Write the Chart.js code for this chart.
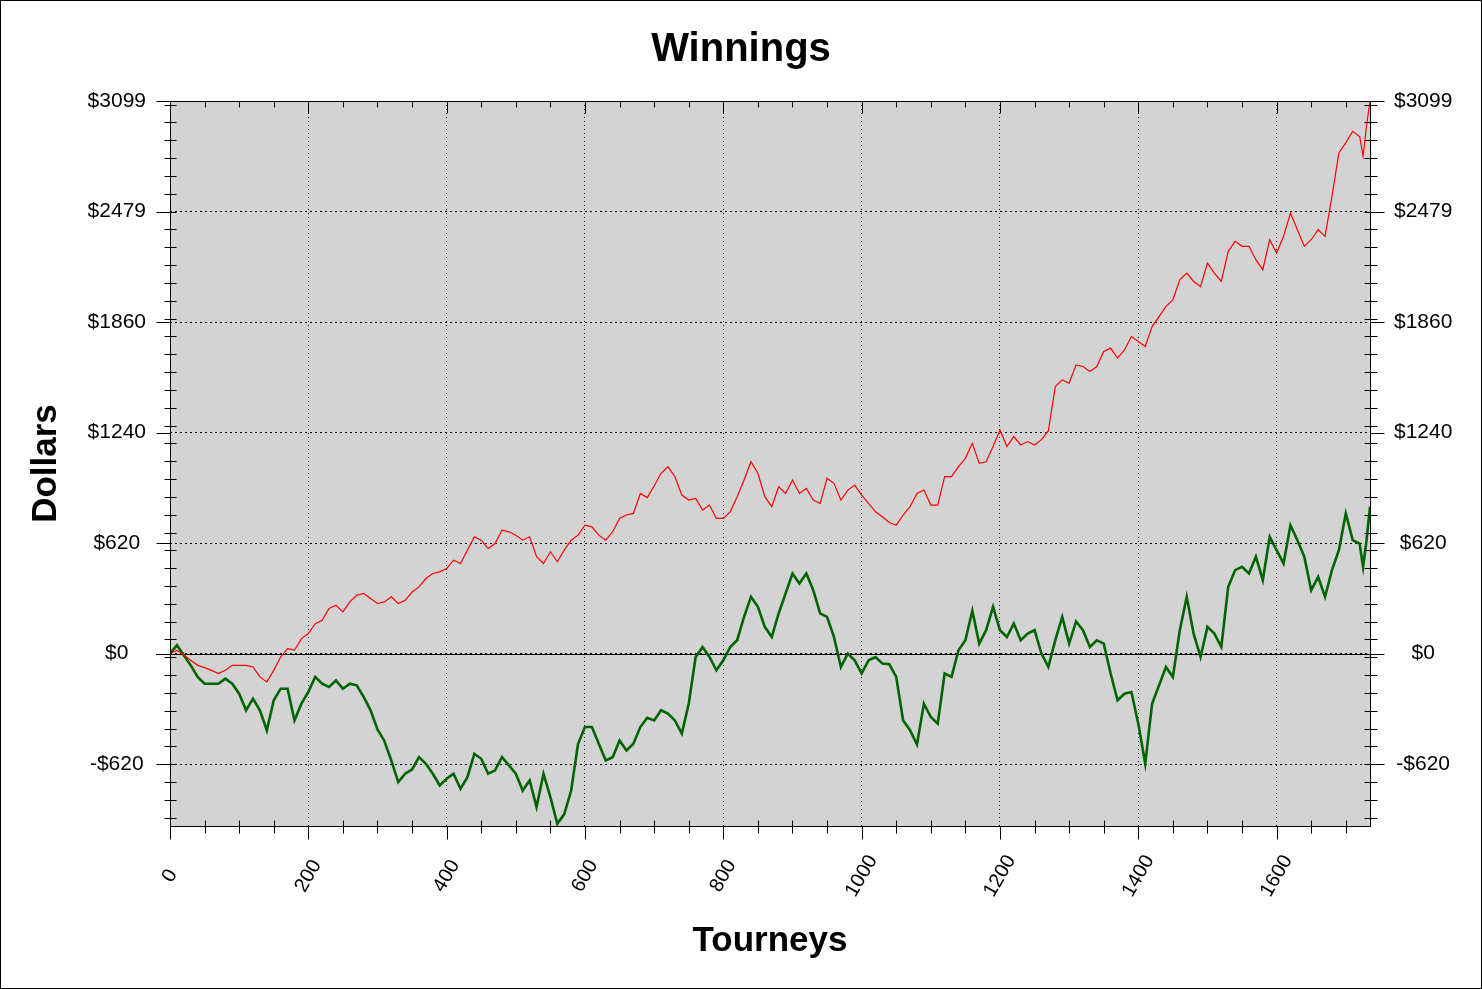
<!DOCTYPE html>
<html>
<head>
<meta charset="utf-8">
<title>Winnings</title>
<script src="https://cdn.jsdelivr.net/npm/chart.js@4.4.1/dist/chart.umd.min.js"></script>
<style>
  html, body { margin: 0; padding: 0; background: #fff; overflow: hidden; }
  canvas { display: block; }
</style>
</head>
<body>
<canvas id="winningsChart" width="1482" height="989"></canvas>
<script>
// tourney number for every sampled point
const tourneys = [
  0, 10, 20, 30, 40, 50, 60, 70, 80, 90,
  100, 110, 120, 130, 140, 150, 160, 170, 180, 190,
  200, 210, 220, 230, 240, 250, 260, 270, 280, 290,
  300, 310, 320, 330, 340, 350, 360, 370, 380, 390,
  400, 410, 420, 430, 440, 450, 460, 470, 480, 490,
  500, 510, 520, 530, 540, 550, 560, 570, 580, 590,
  600, 610, 620, 630, 640, 650, 660, 670, 680, 690,
  700, 710, 720, 730, 740, 750, 760, 770, 780, 790,
  800, 810, 820, 830, 840, 850, 860, 870, 880, 890,
  900, 910, 920, 930, 940, 950, 960, 970, 980, 990,
  1000, 1010, 1020, 1030, 1040, 1050, 1060, 1070, 1080, 1090,
  1100, 1110, 1120, 1130, 1140, 1150, 1160, 1170, 1180, 1190,
  1200, 1210, 1220, 1230, 1240, 1250, 1260, 1270, 1280, 1290,
  1300, 1310, 1320, 1330, 1340, 1350, 1360, 1370, 1380, 1390,
  1400, 1410, 1420, 1430, 1440, 1450, 1460, 1470, 1480, 1490,
  1500, 1510, 1520, 1530, 1540, 1550, 1560, 1570, 1580, 1590,
  1600, 1610, 1620, 1630, 1640, 1650, 1660, 1670, 1680, 1690,
  1700, 1710, 1720, 1725, 1730, 1735
];

// red line (dollars)
const redWinnings = [
  0, 18, -10, -37, -66, -79, -94, -112, -94, -66,
  -66, -66, -75, -131, -159, -94, -19, 28, 19, 84,
  112, 168, 187, 253, 271, 234, 290, 327, 337, 309,
  281, 290, 318, 281, 299, 345, 374, 421, 449, 458,
  477, 524, 505, 580, 655, 636, 589, 617, 692, 683,
  664, 636, 655, 543, 505, 571, 515, 580, 636, 664,
  720, 711, 664, 636, 683, 758, 777, 786, 898, 875,
  940, 1011, 1048, 992, 889, 861, 870, 805, 833, 758,
  758, 795, 880, 973, 1076, 1011, 880, 824, 936, 898,
  973, 898, 926, 861, 842, 983, 955, 861, 917, 945,
  889, 842, 795, 767, 735, 720, 777, 824, 898, 917,
  833, 833, 992, 992, 1048, 1095, 1179, 1067, 1076, 1161,
  1254, 1161, 1217, 1170, 1189, 1170, 1200, 1250, 1497, 1535,
  1516, 1619, 1610, 1582, 1610, 1694, 1713, 1657, 1703, 1778,
  1750, 1722, 1834, 1890, 1947, 1984, 2096, 2134, 2087, 2059,
  2190, 2134, 2087, 2256, 2312, 2284, 2284, 2209, 2153, 2321,
  2246, 2340, 2471, 2377, 2284, 2321, 2377, 2340, 2564, 2808,
  2864, 2929, 2900, 2790, 2960, 3099
];

// green line (dollars)
const greenWinnings = [
  0, 47, -9, -66, -131, -169, -169, -169, -141, -169,
  -225, -318, -253, -318, -431, -262, -197, -197, -375, -281,
  -215, -131, -169, -187, -150, -197, -169, -178, -243, -318,
  -426, -490, -600, -721, -674, -650, -581, -618, -674, -740,
  -702, -674, -758, -693, -562, -590, -674, -655, -581, -627,
  -674, -768, -711, -861, -674, -805, -955, -900, -768, -506,
  -412, -412, -506, -599, -581, -487, -543, -506, -412, -360,
  -375, -318, -337, -375, -449, -281, -19, 37, -19, -94,
  -38, 37, 75, 206, 318, 262, 150, 93, 225, 337,
  449, 393, 449, 356, 225, 206, 93, -75, 0, -38,
  -112, -38, -19, -56, -60, -131, -375, -430, -510, -281,
  -356, -393, -112, -131, 19, 75, 240, 56, 131, 262,
  131, 93, 168, 75, 112, 131, 0, -75, 75, 206,
  56, 180, 131, 37, 75, 56, -112, -262, -225, -216,
  -393, -617, -281, -178, -75, -131, 131, 318, 112, -19,
  150, 112, 37, 374, 468, 486, 449, 543, 412, 655,
  580, 505, 720, 636, 543, 355, 430, 318, 468, 580,
  786, 636, 617, 486, 636, 823
];

const xTicks = [0, 200, 400, 600, 800, 1000, 1200, 1400, 1600];
const yTicks = [-619.8, 0, 619.8, 1239.6, 1859.4, 2479.2, 3099];
const yLabels = ['-$620', '$0', '$620', '$1240', '$1860', '$2479', '$3099'];

const FONT = "'Liberation Sans', Arial, sans-serif";
Chart.defaults.font.family = FONT;
Chart.defaults.color = '#000';

function line(c, x1, y1, x2, y2) {
  c.beginPath();
  c.moveTo(x1, y1);
  c.lineTo(x2, y2);
  c.stroke();
}

// background, plot frame, tick marks and x labels
const framePlugin = {
  id: 'frame',
  beforeDraw(chart) {
    const c = chart.ctx, a = chart.chartArea;
    c.save();
    c.fillStyle = '#fff';
    c.fillRect(0, 0, chart.width, chart.height);
    c.strokeStyle = '#000';
    c.lineWidth = 1;
    c.strokeRect(0.5, 0.5, chart.width - 1, chart.height - 1);
    c.fillStyle = '#d3d3d3';
    c.fillRect(a.left, a.top, a.right - a.left, a.bottom - a.top);
    c.restore();
  },
  beforeDatasetsDraw(chart) {
    const c = chart.ctx, a = chart.chartArea;
    const y = Math.round(chart.scales.y.getPixelForValue(0)) + 0.5;
    c.save();
    c.strokeStyle = '#000';
    c.lineWidth = 1;
    line(c, a.left - 14, y, a.right + 14, y);
    c.restore();
  },
  afterDatasetsDraw(chart) {
    const c = chart.ctx, a = chart.chartArea;
    const xs = chart.scales.x, ys = chart.scales.y;
    const L = Math.round(a.left) + 0.5, R = Math.round(a.right) + 0.5;
    const T = Math.round(a.top) + 0.5, B = Math.round(a.bottom) + 0.5;
    c.save();
    c.strokeStyle = '#000';
    c.lineWidth = 1;
    c.strokeRect(L, T, R - L, B - T);

    // y ticks, left and right
    yTicks.forEach(v => {
      const y = Math.round(ys.getPixelForValue(v)) + 0.5;
      line(c, L - 14, y, L, y);
      line(c, R, y, R + 14, y);
    });
    for (let v = -921; v <= 3099; v += 100) {
      const y = Math.round(ys.getPixelForValue(v)) + 0.5;
      line(c, L - 6, y, L + 6, y);
      line(c, R - 6, y, R + 7, y);
    }

    // x ticks, bottom and top
    xTicks.forEach(v => {
      const x = Math.round(xs.getPixelForValue(v)) + 0.5;
      line(c, x, B, x, B + 13);
      line(c, x, T, x, T + 12);
    });
    for (let v = 50; v <= 1700; v += 50) {
      if (v % 200 === 0) continue;
      const x = Math.round(xs.getPixelForValue(v)) + 0.5;
      line(c, x, B - 6, x, B + 7);
      line(c, x, T, x, T + 6);
    }

    // rotated x labels, centred under their ticks
    c.fillStyle = '#000';
    c.font = '20px ' + FONT;
    c.textAlign = 'center';
    c.textBaseline = 'middle';
    xTicks.forEach(v => {
      c.save();
      c.translate(xs.getPixelForValue(v), a.bottom + 50);
      c.rotate(-Math.PI / 3);
      c.fillText(String(v), 0, 0);
      c.restore();
    });
    c.restore();
  }
};

const yScaleBase = {
  type: 'linear',
  min: -967,
  max: 3099,
  afterBuildTicks: s => { s.ticks = yTicks.map(v => ({ value: v })); },
  ticks: {
    font: { size: 21 },
    padding: 24,
    crossAlign: 'center',
    callback: (v, i) => yLabels[i]
  }
};

new Chart(document.getElementById('winningsChart').getContext('2d'), {
  type: 'line',
  data: {
    datasets: [
      {
        label: 'Red',
        data: tourneys.map((t, i) => ({ x: t, y: redWinnings[i] })),
        borderColor: '#ff0000',
        borderWidth: 1.2,
        pointRadius: 0,
        tension: 0
      },
      {
        label: 'Green',
        data: tourneys.map((t, i) => ({ x: t, y: greenWinnings[i] })),
        borderColor: '#006400',
        borderWidth: 2.6,
        pointRadius: 0,
        tension: 0
      }
    ]
  },
  options: {
    responsive: false,
    devicePixelRatio: 1,
    animation: false,
    events: [],
    layout: { padding: 0 },
    plugins: {
      legend: { display: false },
      tooltip: { enabled: false },
      title: {
        display: true,
        text: 'Winnings',
        color: '#000',
        font: { size: 40, weight: 'bold' },
        padding: { top: 26, bottom: 27 }
      }
    },
    scales: {
      x: {
        type: 'linear',
        position: 'bottom',
        min: 0,
        max: 1735,
        afterBuildTicks: s => { s.ticks = xTicks.map(v => ({ value: v })); },
        afterFit: s => { s.height = 163; },
        ticks: { display: false },
        grid: { color: '#000', lineWidth: 1, drawTicks: false },
        border: { display: false, dash: [1, 3] },
        title: {
          display: true,
          text: 'Tourneys',
          font: { size: 35, weight: 'bold' },
          padding: { top: 0, bottom: 27 }
        }
      },
      y: {
        ...yScaleBase,
        position: 'left',
        afterFit: s => { s.width = 170; },
        grid: { color: '#000', lineWidth: 1, drawTicks: false },
        border: { display: false, dash: [2, 3] },
        title: {
          display: true,
          text: 'Dollars',
          font: { size: 35, weight: 'bold' },
          padding: { top: 25, bottom: 0 }
        }
      },
      y2: {
        ...yScaleBase,
        position: 'right',
        afterFit: s => { s.width = 112; },
        grid: { drawOnChartArea: false, drawTicks: false },
        border: { display: false }
      }
    }
  },
  plugins: [framePlugin]
});
</script>
</body>
</html>
